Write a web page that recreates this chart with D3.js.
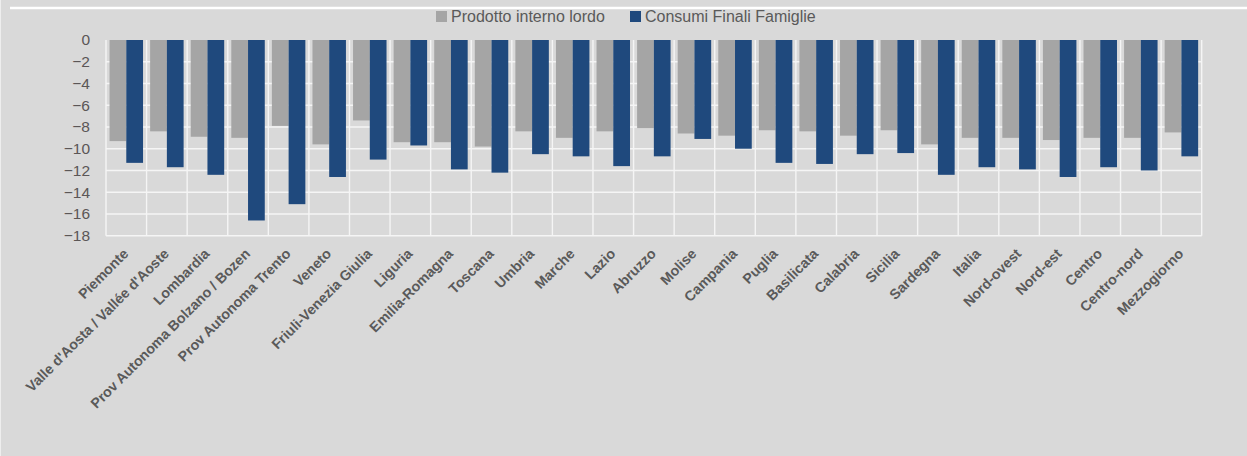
<!DOCTYPE html>
<html>
<head>
<meta charset="utf-8">
<script src="https://cdn.jsdelivr.net/npm/d3@7"></script>
<style>
  html, body { margin: 0; padding: 0; background: #d9d9d9; }
  svg { display: block; }
  text { font-family: "Liberation Sans", Arial, sans-serif; }
</style>
</head>
<body>
<svg id="chart" width="1247" height="456"></svg>
<script>
// Regions and macro-areas
const categories = [
  "Piemonte", "Valle d'Aosta / Vallée d'Aoste", "Lombardia",
  "Prov Autonoma Bolzano / Bozen", "Prov Autonoma Trento", "Veneto",
  "Friuli-Venezia Giulia", "Liguria", "Emilia-Romagna", "Toscana",
  "Umbria", "Marche", "Lazio", "Abruzzo", "Molise", "Campania",
  "Puglia", "Basilicata", "Calabria", "Sicilia", "Sardegna",
  "Italia", "Nord-ovest", "Nord-est", "Centro", "Centro-nord", "Mezzogiorno"
];

// Prodotto interno lordo (variazione %)
const pilValues = [
  -9.3, -8.4, -8.9, -9.0, -7.9, -9.6,
  -7.4, -9.4, -9.4, -9.8,
  -8.4, -9.0, -8.4, -8.1, -8.6, -8.8,
  -8.3, -8.4, -8.8, -8.3, -9.6,
  -9.0, -9.0, -9.2, -9.0, -9.0, -8.5
];

// Consumi finali delle famiglie (variazione %)
const consumiValues = [
  -11.3, -11.7, -12.4, -16.6, -15.1, -12.6,
  -11.0, -9.7, -11.9, -12.2,
  -10.5, -10.7, -11.6, -10.7, -9.1, -10.0,
  -11.3, -11.4, -10.5, -10.4, -12.4,
  -11.7, -11.9, -12.6, -11.7, -12.0, -10.7
];

const seriesNames = ["Prodotto interno lordo", "Consumi Finali Famiglie"];
const seriesColors = ["#a5a5a5", "#1f497d"];
const yTicks = [0, -2, -4, -6, -8, -10, -12, -14, -16, -18];

const svg = d3.select("#chart");
const W = 1247, H = 456;
const plot = { left: 106, right: 1201.7, top: 40, bottom: 235.7 };

// page background and frame
svg.append("rect").attr("width", W).attr("height", H).attr("fill", "#d9d9d9");
svg.append("line").attr("x1", 0.5).attr("x2", 0.5).attr("y1", 0).attr("y2", H)
  .attr("stroke", "#eeeeee").attr("stroke-width", 1);
svg.append("line").attr("x1", 10).attr("x2", W).attr("y1", 8).attr("y2", 8)
  .attr("stroke", "#ffffff").attr("stroke-width", 2.5);

// scales
const x0 = d3.scaleBand()
  .domain(categories)
  .range([plot.left, plot.right])
  .paddingInner(0.175)
  .paddingOuter(0.0875);
const x1 = d3.scaleBand()
  .domain(seriesNames)
  .range([0, x0.bandwidth()]);
const y = d3.scaleLinear()
  .domain([-18, 0])
  .range([plot.bottom, plot.top]);

// grid
const grid = svg.append("g").attr("stroke", "#f5f5f5").attr("stroke-width", 1.4);
yTicks.filter(t => t !== 0).forEach(t => {
  grid.append("line")
    .attr("x1", plot.left).attr("x2", plot.right)
    .attr("y1", y(t)).attr("y2", y(t));
});
d3.range(categories.length + 1).forEach(i => {
  const gx = plot.left + i * x0.step();
  grid.append("line")
    .attr("x1", gx).attr("x2", gx)
    .attr("y1", plot.top).attr("y2", plot.bottom);
});

// bars
const rows = categories.map((c, i) => ({
  cat: c,
  vals: [pilValues[i], consumiValues[i]]
}));
const groups = svg.append("g").selectAll("g")
  .data(rows).join("g")
  .attr("transform", d => `translate(${x0(d.cat)},0)`);
groups.selectAll("rect")
  .data(d => d.vals.map((v, k) => ({ key: seriesNames[k], v, k })))
  .join("rect")
  .attr("x", d => x1(d.key))
  .attr("width", x1.bandwidth())
  .attr("y", d => y(0))
  .attr("height", d => y(d.v) - y(0))
  .attr("fill", d => seriesColors[d.k]);

// y axis
const yAxis = svg.append("g")
  .attr("transform", `translate(${plot.left},0)`)
  .call(d3.axisLeft(y).tickValues(yTicks).tickSize(0).tickPadding(16)
    .tickFormat(d3.format("d")));
yAxis.select(".domain").remove();
yAxis.selectAll("text")
  .attr("font-size", 15.5)
  .attr("fill", "#5b5656")
  .attr("font-family", "'Liberation Sans', Arial, sans-serif");

// x labels
svg.append("g").selectAll("text")
  .data(categories).join("text")
  .attr("transform", d => `translate(${x0(d) + x0.bandwidth() / 2 + 3},${plot.bottom + 19}) rotate(-45)`)
  .attr("text-anchor", "end")
  .attr("font-size", 14.2)
  .attr("font-weight", "bold")
  .attr("fill", "#5a5a5a")
  .text(d => d);

// legend
const legendItems = [
  { name: seriesNames[0], color: seriesColors[0], x: 436 },
  { name: seriesNames[1], color: seriesColors[1], x: 630 }
];
const lg = svg.append("g");
legendItems.forEach(it => {
  lg.append("rect").attr("x", it.x).attr("y", 11).attr("width", 11).attr("height", 11)
    .attr("fill", it.color);
  lg.append("text").attr("x", it.x + 15).attr("y", 22)
    .attr("font-size", 16).attr("fill", "#5a5a5a")
    .text(it.name);
});
</script>
</body>
</html>
